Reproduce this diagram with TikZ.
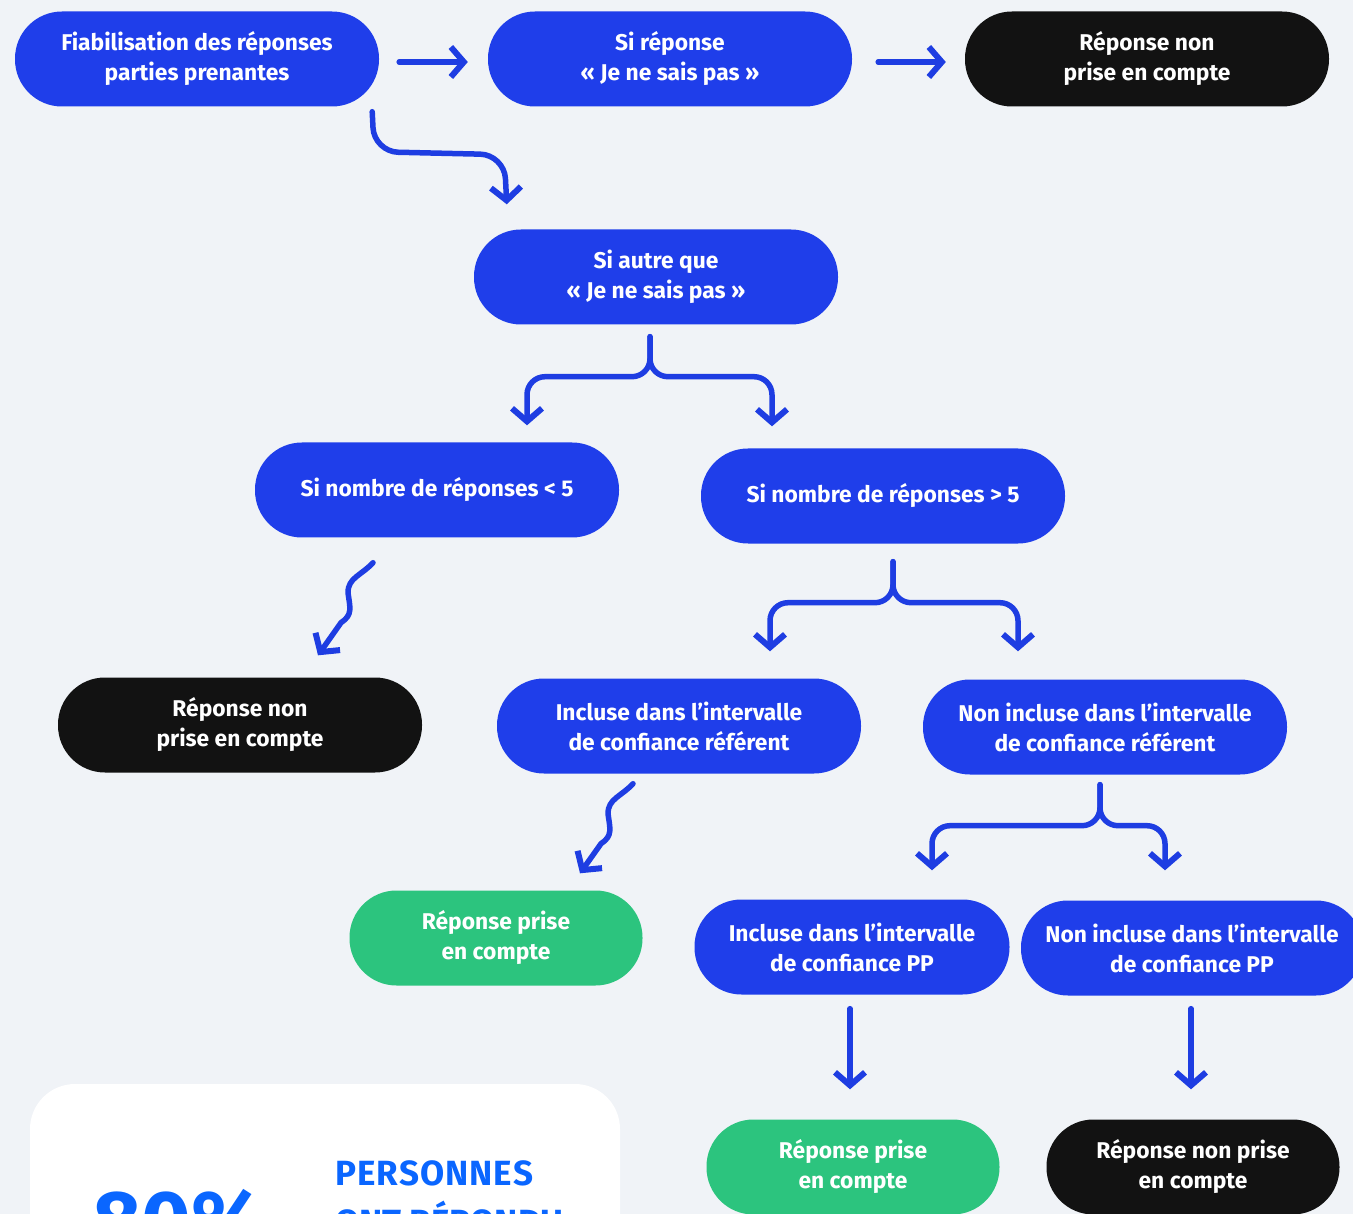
\documentclass[tikz,border=0pt]{standalone}
\usepackage{fontspec}
\setmainfont{Fira Sans}
\usetikzlibrary{arrows.meta}

\definecolor{bg}{HTML}{F0F3F7}
\definecolor{pillblue}{HTML}{1F3EEA}
\definecolor{pillgreen}{HTML}{2CC47E}
\definecolor{pillblack}{HTML}{121212}
\definecolor{accent}{HTML}{0A66FF}
\definecolor{arrowblue}{HTML}{1E3DE2}

\tikzset{
  pill/.style={rectangle, rounded corners=47pt, minimum height=95pt,
    inner sep=0pt, align=center, text=white,
    font=\bfseries\fontsize{22.8}{30}\selectfont},
  bluepill/.style={pill, fill=pillblue, minimum width=364pt},
  blackpill/.style={pill, fill=pillblack, minimum width=364pt},
  greenpill/.style={pill, fill=pillgreen, minimum width=293pt},
  flow/.style={draw=arrowblue, line width=5.5pt, line cap=round, line join=round,
    -{Straight Barb[length=13pt, width=30pt, line width=6pt]}},
  fork/.style={flow, rounded corners=18pt},
  cardtext/.style={anchor=base west, inner sep=0pt, text=accent},
}

\begin{document}
\begin{tikzpicture}[x=1pt, y=-1pt]
  \useasboundingbox (0,0) rectangle (1353,1214);
  \clip (0,0) rectangle (1353,1214);
  \fill[bg] (0,0) rectangle (1353,1214);

  % summary card at the bottom left
  \fill[white, rounded corners=45pt] (30,1084) rectangle (620,1300);
  \node[cardtext, font=\bfseries\fontsize{85}{85}\selectfont] (big) at (92,1250) {80\%};
  \node[cardtext, font=\bfseries\fontsize{35}{40}\selectfont] (lbl1) at (335,1185)
    {P\kern1ptE\kern1ptR\kern1ptS\kern1ptO\kern1ptN\kern1ptN\kern1ptE\kern1ptS};
  \node[cardtext, font=\bfseries\fontsize{35}{40}\selectfont] (lbl2) at (335,1234) {ONT RÉPONDU};

  % first row
  \node[bluepill]  (n1) at (197,59)  {Fiabilisation des réponses\\parties prenantes};
  \node[bluepill]  (n2) at (670,59)  {Si réponse\\« Je ne sais pas »};
  \node[blackpill] (n3) at (1147,59) {Réponse non\\prise en compte};

  % second level
  \node[bluepill]  (n4) at (656,277) {Si autre que\\« Je ne sais pas »};
  \node[bluepill]  (n5) at (437,490) {Si nombre de réponses < 5};
  \node[bluepill]  (n6) at (883,496) {Si nombre de réponses > 5};

  % third level
  \node[blackpill] (n7) at (240,725)  {Réponse non\\prise en compte};
  \node[bluepill]  (n8) at (679,726)  {Incluse dans l’intervalle\\de confiance référent};
  \node[bluepill]  (n9) at (1105,727) {Non incluse dans l’intervalle\\de confiance référent};

  % fourth level
  \node[greenpill] (n10) at (496,938) {Réponse prise\\en compte};
  \node[bluepill, minimum width=315pt] (n11) at (852,947) {Incluse dans l’intervalle\\de confiance PP};
  \node[bluepill, minimum width=342pt] (n12) at (1192,948) {Non incluse dans l’intervalle\\de confiance PP};

  % outcomes
  \node[greenpill] (n13) at (853,1167) {Réponse prise\\en compte};
  \node[blackpill, minimum width=293pt] (n14) at (1193,1167) {Réponse non prise\\en compte};

  % straight arrows along the first row
  \draw[flow] ([shift={(20,3)}]n1.east) -- ([shift={(-20,3)}]n2.west);
  \draw[flow] ([shift={(26,3)}]n2.east) -- ([shift={(-19,3)}]n3.west);

  % hooked arrow down to the second level
  \draw[flow, rounded corners=24pt] ([shift={(-7,5)}]n1.south east)
    -- ++(2,40) -- ++(130,3) -- ([shift={(33,-25)}]n4.north west);

  % forks
  \draw[fork] ([shift={(-6,12)}]n4.south) -- ++(0,40) -| ([shift={(90,-17)}]n5.north);
  \draw[fork] ([shift={(-6,12)}]n4.south) -- ++(0,40) -| ([shift={(-111,-22)}]n6.north);

  \draw[fork] ([shift={(10,18)}]n6.south) -- ++(0,41) -| ([shift={(91,-27)}]n8.north);
  \draw[fork] ([shift={(10,18)}]n6.south) -- ++(0,41) -| ([shift={(-87,-28)}]n9.north);

  \draw[fork] ([shift={(-5,10)}]n9.south) -- ++(0,41) -| ([shift={(80,-29)}]n11.north);
  \draw[fork] ([shift={(-5,10)}]n9.south) -- ++(0,41) -| ([shift={(-27,-30)}]n12.north);

  % wavy arrows
  \draw[flow] ([shift={(-64,25)}]n5.south)
    .. controls +(-12,13) and +(0,-15) .. ++(-25,30)
    .. controls +(2,15) and +(12,-8) .. ++(-7,30)
    -- ([shift={(78,-22)}]n7.north);
  \draw[flow] ([shift={(-46,10)}]n8.south)
    .. controls +(-12,13) and +(0,-15) .. ++(-25,30)
    .. controls +(2,15) and +(12,-8) .. ++(-7,30)
    -- ([shift={(84,-17)}]n10.north);

  % straight drops to the outcomes
  \draw[flow] ([shift={(-2,14)}]n11.south) -- ([shift={(-3,-30)}]n13.north);
  \draw[flow] ([shift={(-1,13)}]n12.south) -- ([shift={(-2,-30)}]n14.north);
\end{tikzpicture}
\end{document}
